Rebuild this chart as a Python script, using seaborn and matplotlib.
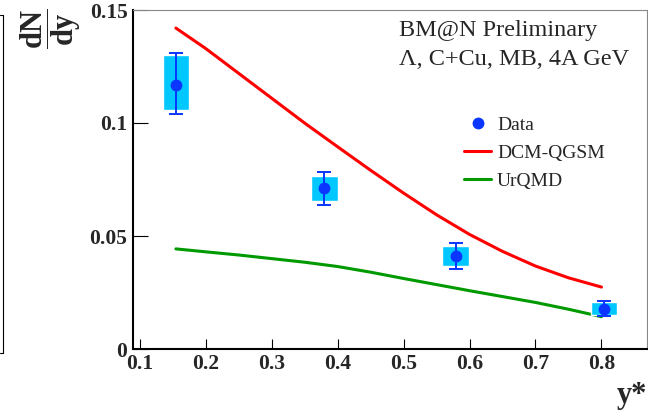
import matplotlib
matplotlib.use("Agg")
import matplotlib.pyplot as plt
from matplotlib.lines import Line2D
import pandas as pd
import seaborn as sns

# measured points (Lambda, C+Cu, MB, 4A GeV)
y_star = [0.155, 0.38, 0.579, 0.804]
dndy = [0.117, 0.0711, 0.0412, 0.0177]
stat_lo = [0.104, 0.0638, 0.0355, 0.0146]
stat_hi = [0.131, 0.0782, 0.0468, 0.0211]
sys_lo = [0.1056, 0.0655, 0.0366, 0.0150]
sys_hi = [0.1300, 0.0765, 0.0456, 0.0207]

# model curves
model_y = [0.155, 0.2, 0.25, 0.3, 0.35, 0.4, 0.45, 0.5, 0.55, 0.6, 0.65, 0.7, 0.75, 0.8]
dcm_qgsm = [0.142, 0.133, 0.122, 0.111, 0.1000, 0.0895, 0.0791, 0.0690, 0.0594, 0.0507,
            0.0432, 0.0367, 0.0315, 0.0274]
urqmd = [0.0443, 0.0430, 0.0416, 0.0400, 0.0384, 0.0365, 0.0340, 0.0312, 0.0285, 0.0258,
         0.0232, 0.0206, 0.0176, 0.0143]

x_ticks = [0.1, 0.2, 0.3, 0.4, 0.5, 0.6, 0.7, 0.8]
y_ticks = [0, 0.05, 0.1, 0.15]
y_tick_labels = ["0", "0.05", "0.1", "0.15"]

sns.set_theme(style="ticks")
plt.rcParams["font.family"] = ["Liberation Serif", "DejaVu Serif"]
plt.rcParams["mathtext.fontset"] = "custom"
plt.rcParams["mathtext.rm"] = "Liberation Serif:bold"
plt.rcParams["mathtext.it"] = "Liberation Serif:bold"
plt.rcParams["mathtext.bf"] = "Liberation Serif:bold"

blue = "#0a36ff"
cyan = "#00c8ff"
red = "#ff0000"
green = "#009a00"

fig = plt.figure(figsize=(6.48, 4.19), dpi=100)
ax = fig.add_axes([133 / 648, 1 - 349 / 419, 514 / 648, 339 / 419])

models = pd.DataFrame({"y": model_y * 2,
                       "v": dcm_qgsm + urqmd,
                       "m": ["DCM-QGSM"] * len(model_y) + ["UrQMD"] * len(model_y)})
sns.lineplot(data=models, x="y", y="v", hue="m", palette={"DCM-QGSM": red, "UrQMD": green},
             linewidth=2.2, ax=ax, legend=False)

heights = [h - l for h, l in zip(sys_hi, sys_lo)]
ax.bar(y_star, heights, bottom=sys_lo, width=0.04, color=cyan, zorder=3)
yerr = [[d - l for d, l in zip(dndy, stat_lo)], [h - d for h, d in zip(stat_hi, dndy)]]
ax.errorbar(y_star, dndy, yerr=yerr, fmt="o", color=blue, markersize=7.5,
            elinewidth=1.4, capsize=4.8, capthick=1.4, zorder=4)

ax.set_xlim(0.09, 0.869)
ax.set_ylim(0, 0.15)
ax.set_xticks(x_ticks)
ax.set_xticklabels([str(t) for t in x_ticks])
ax.set_yticks(y_ticks)
ax.set_yticklabels(y_tick_labels)
ax.minorticks_off()
ax.tick_params(axis="x", direction="in", length=7.2, width=0.8, color="black",
               labelsize=15.5, pad=3.5)
ax.tick_params(axis="y", direction="in", length=10.5, width=0.8, color="black",
               labelsize=15.5, pad=4)
for lab in ax.get_xticklabels() + ax.get_yticklabels():
    lab.set_fontweight("bold")
for s in ["left", "bottom"]:
    ax.spines[s].set_linewidth(1.5)
    ax.spines[s].set_color("black")
for s in ["top", "right"]:
    ax.spines[s].set_linewidth(0.8)
    ax.spines[s].set_color("#888888")
ax.set_xlabel("")
ax.set_ylabel("")

fig.text(51 / 648, 1 - 29 / 419, r"$\dfrac{dN}{dy}$", rotation=90, fontsize=22,
         ha="center", va="center")
fig.text(647 / 648, 1 - 403 / 419, "y*", fontsize=22, fontweight="bold",
         ha="right", va="baseline")

fig.text(399 / 648, 1 - 36 / 419, "BM@N Preliminary", fontsize=17.5, va="baseline")
fig.text(399 / 648, 1 - 65 / 419, "Λ, C+Cu, MB, 4A GeV", fontsize=17.5, va="baseline")

handles = [Line2D([], [], color=blue, marker="o", linestyle="none", markersize=7.5),
           Line2D([], [], color=red, linewidth=2.2),
           Line2D([], [], color=green, linewidth=2.2)]
ax.legend(handles, ["Data", "DCM-QGSM", "UrQMD"], loc="upper left",
          bbox_to_anchor=(464 / 648, 1 - 116 / 419), bbox_transform=fig.transFigure,
          frameon=False, fontsize=14, borderpad=0, borderaxespad=0,
          handlelength=1.4, handletextpad=0.3, labelspacing=0.55)

# edge of the neighbouring panel
fig.add_artist(Line2D([3 / 648, 3 / 648], [1 - 15 / 419, 1 - 353 / 419], color="black", linewidth=0.8))
fig.add_artist(Line2D([0, 3 / 648], [1 - 15 / 419, 1 - 15 / 419], color="black", linewidth=0.8))
fig.add_artist(Line2D([0, 3 / 648], [1 - 353 / 419, 1 - 353 / 419], color="black", linewidth=0.8))

fig.savefig("out.png", dpi=100)
